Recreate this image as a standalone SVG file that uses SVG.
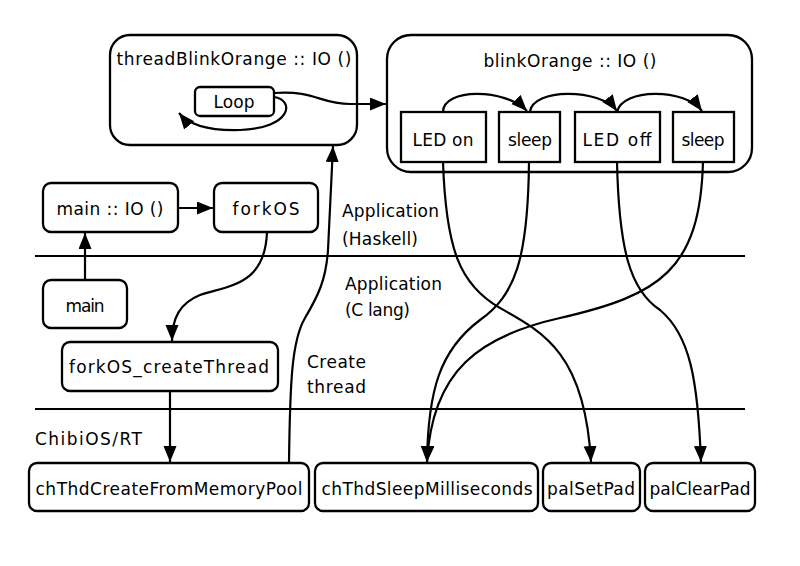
<svg xmlns="http://www.w3.org/2000/svg" width="800" height="566" viewBox="0 0 800 566">
<defs>
<marker id="ah" markerUnits="userSpaceOnUse" markerWidth="17" markerHeight="14" refX="16" refY="6.5" orient="auto">
<path d="M0,0 L16,6.5 L0,13 z" fill="#000"/>
</marker>
<style>
.box{fill:#fff;stroke:#000;stroke-width:2.3}
.t{font-family:"DejaVu Sans","Liberation Sans",sans-serif;font-size:17px;fill:#000}
.m{text-anchor:middle}
.c{fill:none;stroke:#000;stroke-width:2.2;marker-end:url(#ah)}
.sep{stroke:#000;stroke-width:2}
</style>
</defs>
<rect width="800" height="566" fill="#fff"/>

<g id="layers">
<line class="sep" x1="35" y1="256" x2="745" y2="256"/>
<line class="sep" x1="35" y1="409" x2="745" y2="409"/>
<text class="t" x="342" y="217" textLength="97">Application</text>
<text class="t" x="342" y="245" textLength="76">(Haskell)</text>
<text class="t" x="345" y="290" textLength="97">Application</text>
<text class="t" x="345" y="316" textLength="65">(C lang)</text>
<text class="t" x="307" y="368" textLength="59">Create</text>
<text class="t" x="307" y="393" textLength="59">thread</text>
<text class="t" x="35" y="445" textLength="107">ChibiOS/RT</text>
</g>

<g id="threadBlinkOrange">
<rect class="box" x="110" y="35" width="247" height="110" rx="20"/>
<text class="t m" x="234" y="65" textLength="235">threadBlinkOrange :: IO ()</text>
</g>
<g id="loop">
<rect class="box" x="195" y="87" width="79" height="29" rx="5"/>
<text class="t m" x="234" y="108" textLength="41">Loop</text>
</g>

<g id="blinkOrange">
<rect class="box" x="387" y="35" width="365" height="137" rx="24"/>
<text class="t m" x="570" y="67" textLength="173">blinkOrange :: IO ()</text>
</g>
<g id="ledOn">
<rect class="box" x="401" y="112" width="85" height="50"/>
<text class="t m" x="443" y="146" textLength="61">LED on</text>
</g>
<g id="sleep1">
<rect class="box" x="499" y="112" width="61" height="50"/>
<text class="t m" x="530" y="146" textLength="44">sleep</text>
</g>
<g id="ledOff">
<rect class="box" x="575" y="112" width="85" height="50"/>
<text class="t m" x="617" y="146" textLength="69">LED off</text>
</g>
<g id="sleep2">
<rect class="box" x="673" y="112" width="61" height="50"/>
<text class="t m" x="703" y="146" textLength="43">sleep</text>
</g>

<g id="mainIO">
<rect class="box" x="43" y="183" width="135" height="49" rx="8"/>
<text class="t m" x="110" y="215" textLength="107">main :: IO ()</text>
</g>
<g id="forkOS">
<rect class="box" x="214" y="183" width="104" height="49" rx="8"/>
<text class="t m" x="266" y="215" textLength="67">forkOS</text>
</g>
<g id="main">
<rect class="box" x="43" y="280" width="84" height="48" rx="8"/>
<text class="t m" x="85" y="312" textLength="39">main</text>
</g>
<g id="forkOS_createThread">
<rect class="box" x="62" y="342" width="216" height="49" rx="8"/>
<text class="t m" x="169" y="373" textLength="200">forkOS_createThread</text>
</g>

<g id="chThdCreateFromMemoryPool">
<rect class="box" x="29" y="463" width="280" height="48" rx="8"/>
<text class="t m" x="169" y="495" textLength="267">chThdCreateFromMemoryPool</text>
</g>
<g id="chThdSleepMilliseconds">
<rect class="box" x="315" y="463" width="223" height="48" rx="8"/>
<text class="t m" x="427" y="495" textLength="211">chThdSleepMilliseconds</text>
</g>
<g id="palSetPad">
<rect class="box" x="543" y="463" width="97" height="48" rx="8"/>
<text class="t m" x="591" y="495" textLength="88">palSetPad</text>
</g>
<g id="palClearPad">
<rect class="box" x="645" y="463" width="110" height="48" rx="8"/>
<text class="t m" x="700" y="495" textLength="101">palClearPad</text>
</g>

<g id="connectors">
<path class="c" d="M85 280 L85 233"/>
<path class="c" d="M178 208 L213 208"/>
<path class="c" d="M267 232 C265 285 230 285 200 295 C180 303 172 318 172 341"/>
<path class="c" d="M170 391 L170 462"/>
<path class="c" d="M289 463 C290 380 292 340 305 318 C318 296 326 280 328 250 L333 146"/>
<path class="c" d="M274 97 C295 100 292 128 240 130 C205 131 188 124 179 113"/>
<path class="c" d="M274 93 C315 90 320 104 350 104 L386 104"/>
<path class="c" d="M443 112 C443 88 505 88 527 111"/>
<path class="c" d="M530 112 C532 88 600 88 617 111"/>
<path class="c" d="M617 112 C622 88 685 88 702 111"/>
<path class="c" d="M443 162 C446 250 460 285 500 308 C545 333 585 355 591 462"/>
<path class="c" d="M529 162 C528 260 515 295 480 320 C440 350 428 390 427 462"/>
<path class="c" d="M617 162 C619 250 630 290 660 310 C690 335 698 380 701 462"/>
<path class="c" d="M703 162 C700 270 660 295 560 318 C480 336 432 370 427 462"/>
</g>
</svg>
